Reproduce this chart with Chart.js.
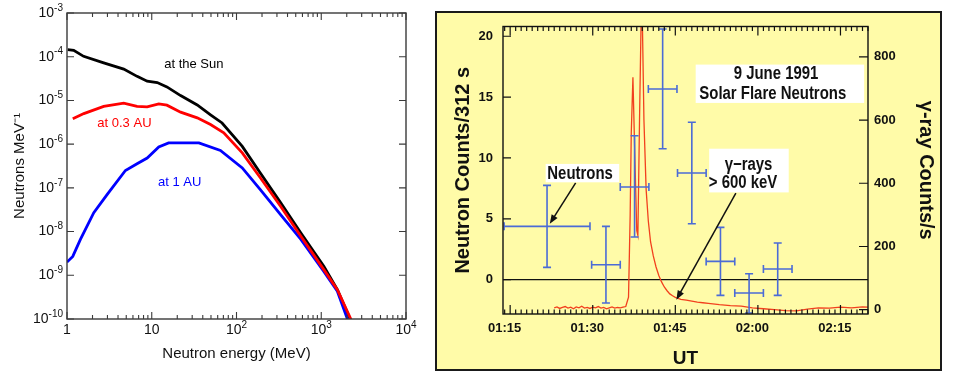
<!DOCTYPE html>
<html><head><meta charset="utf-8">
<script src="https://cdn.jsdelivr.net/npm/chart.js@4.4.1/dist/chart.umd.min.js"></script>
<style>
html,body{margin:0;padding:0;background:#fff;}
body{width:963px;height:383px;position:relative;overflow:hidden;}
#c1{position:absolute;left:0;top:0;}
#frame{position:absolute;left:435px;top:11px;width:503px;height:356px;border:2px solid #1a1a1a;background:#fffba8;}
#c2{position:absolute;left:430px;top:0;}
</style></head><body>
<canvas id="c1" width="420" height="383"></canvas>
<div id="frame"></div>
<canvas id="c2" width="533" height="383"></canvas>
<script>
// ---------- Left panel data: neutron energy spectra ----------
const energySun  = [1.02, 1.2, 1.57, 2.71, 4.67, 6.71, 8.83, 11.6, 15.1, 21.9, 34.4, 49.4, 67.6, 117, 191, 331, 575, 1072, 1549, 2188];
const fluxSun    = [1.45e-4, 1.40e-4, 1.02e-4, 7.2e-5, 5.2e-5, 3.55e-5, 2.75e-5, 2.57e-5, 2.04e-5, 1.29e-5, 7.9e-6, 4.7e-6, 3.05e-6, 8.9e-7, 2.19e-7, 4.6e-8, 9.3e-9, 1.62e-9, 4.7e-10, 1.0e-10];
const energy03AU = [1.17, 1.58, 2.71, 4.67, 6.71, 8.83, 12.1, 15.1, 21.9, 34.4, 49.4, 70.8, 117, 191, 331, 575, 1072, 1549, 2239];
const flux03AU   = [3.8e-6, 5.0e-6, 7.3e-6, 8.7e-6, 7.3e-6, 7.1e-6, 8.3e-6, 7.8e-6, 5.4e-6, 4.0e-6, 2.8e-6, 1.82e-6, 6.3e-7, 1.70e-7, 3.8e-8, 7.8e-9, 1.35e-9, 4.7e-10, 9.8e-11];
const energy1AU  = [1.0, 1.17, 1.44, 2.07, 2.97, 4.89, 6.71, 8.83, 12.1, 15.8, 24.0, 36.0, 64.6, 117, 191, 331, 575, 1072, 1549, 2042];
const flux1AU    = [2.0e-9, 2.7e-9, 6.6e-9, 2.7e-8, 7.0e-8, 2.5e-7, 3.55e-7, 4.8e-7, 8.6e-7, 1.07e-6, 1.07e-6, 1.07e-6, 7.2e-7, 2.85e-7, 9.1e-8, 2.45e-8, 6.6e-9, 1.23e-9, 4.3e-10, 9.8e-11];
const energyTickValues = [1, 10, 100, 1000, 10000];
const energyTickBase   = ['1', '10', '10', '10', '10'];
const energyTickExp    = ['', '', '2', '3', '4'];
const fluxTickValues = [1e-10, 1e-9, 1e-8, 1e-7, 1e-6, 1e-5, 1e-4, 1e-3];
const fluxTickExp    = ['-10', '-9', '-8', '-7', '-6', '-5', '-4', '-3'];
const curveLabels = [
  {text: 'at the Sun', e: 31.4, f: 6.57e-5, color: '#000000'},
  {text: 'at 0.3 AU', e: 4.76, f: 3.05e-6, color: '#ff0000'},
  {text: 'at 1 AU', e: 21.4, f: 1.34e-7, color: '#0000ff'}
];

// ---------- Right panel data: 9 June 1991 flare ----------
const gammaMinutes = [84,84.5,85,85.5,86,86.5,87,87.5,88,88.5,89,89.5,90,90.5,91,91.5,92,92.5,93,93.5,94,94.5,95,95.5,96,96.5,97,97.5,97.8,98.0,98.3,98.6,98.8,99.0,99.2,99.5,99.8,100.0,100.3,100.7,101.1,101.5,102,102.5,103,103.5,104,104.5,105,105.5,106,107,108,109,110,111,112,114,116,118,120,122,124,126,128,130,132,134,136,138,140,141];
const gammaCounts  = [6,9,4,7,10,5,8,3,9,6,11,5,7,4,8,6,10,5,7,3,6,9,5,7,6,8,10,40,300,560,735,520,380,250,235,600,930,930,600,380,280,215,170,135,108,88,72,60,50,44,39,33,30,27,24,22,20,16,13,11,6,3,0,-3,-4,2,6,5,8,6,9,8];
const neutronMinutes  = [82.7, 93.4, 98.6, 103.7, 109.0, 114.2, 119.4, 124.6];
const neutronHalfBin  = [7.8, 2.6, 2.6, 2.6, 2.6, 2.6, 2.6, 2.6];
const neutronCounts   = [4.38, 1.23, 7.62, 15.67, 8.77, 1.5, -1.1, 0.88];
const neutronLow      = [1.01, -1.92, 3.51, 10.76, 4.6, -1.29, -2.74, -1.29];
const neutronHigh     = [7.75, 4.38, 11.83, 20.6, 12.93, 4.3, 0.49, 3.01];
const utTickMinutes = [75, 90, 105, 120, 135];
const utTickLabels  = ['01:15', '01:30', '01:45', '02:00', '02:15'];
const utMajorMarkMinutes = [76, 91, 106, 121, 136];
const neutronTickValues = [0, 5, 10, 15, 20];
const gammaTickValues = [0, 200, 400, 600, 800];

const helv = "'Liberation Sans',Arial,Helvetica,sans-serif";

// ---------- Left chart ----------
const leftPlugin = {
  id: 'leftBox',
  afterDraw(chart) {
    const {ctx, chartArea: a} = chart;
    const x = chart.scales.x, y = chart.scales.y;
    ctx.save();
    ctx.strokeStyle = '#3a3a3a';
    ctx.lineWidth = 1.4;
    ctx.strokeRect(a.left, a.top, a.right - a.left, a.bottom - a.top);
    ctx.lineWidth = 1.1;
    ctx.beginPath();
    const vt = (px, len) => { ctx.moveTo(px, a.bottom); ctx.lineTo(px, a.bottom - len); ctx.moveTo(px, a.top); ctx.lineTo(px, a.top + len); };
    for (const v of energyTickValues) vt(x.getPixelForValue(v), 7);
    for (let k = 0; k < 4; k++) for (let d = 2; d <= 9; d++) vt(x.getPixelForValue(d * Math.pow(10, k)), 4);
    for (const v of fluxTickValues) {
      const py = y.getPixelForValue(v);
      ctx.moveTo(a.left, py); ctx.lineTo(a.left + 7, py);
      ctx.moveTo(a.right, py); ctx.lineTo(a.right - 7, py);
    }
    ctx.stroke();
    // tick labels with raised exponents
    ctx.fillStyle = '#111';
    ctx.textBaseline = 'middle';
    ctx.textAlign = 'left';
    const bigF = '14px ' + helv, supF = '10px ' + helv;
    const label = (base, exp, cx, cy, align) => {
      ctx.font = bigF; const wb = ctx.measureText(base).width;
      ctx.font = supF; const we = exp ? ctx.measureText(exp).width : 0;
      const total = wb + we;
      const x0 = align === 'right' ? cx - total : cx - total / 2;
      ctx.font = bigF; ctx.fillText(base, x0, cy);
      if (exp) { ctx.font = supF; ctx.fillText(exp, x0 + wb, cy - 5); }
    };
    energyTickValues.forEach((v, i) => label(energyTickBase[i], energyTickExp[i], x.getPixelForValue(v), a.bottom + 11, 'center'));
    fluxTickValues.forEach((v, i) => label('10', fluxTickExp[i], a.left - 4, y.getPixelForValue(v), 'right'));
    // curve labels
    ctx.font = '13px ' + helv;
    ctx.textAlign = 'center';
    for (const l of curveLabels) {
      ctx.fillStyle = l.color;
      ctx.fillText(l.text, x.getPixelForValue(l.e), y.getPixelForValue(l.f));
    }
    ctx.restore();
  }
};

const toXY = (xs, ys) => xs.map((v, i) => ({x: v, y: ys[i]}));

new Chart(document.getElementById('c1'), {
  type: 'line',
  data: {
    datasets: [
      {data: toXY(energy03AU, flux03AU), borderColor: '#ff0000', borderWidth: 2.8},
      {data: toXY(energy1AU, flux1AU), borderColor: '#0000ff', borderWidth: 2.8},
      {data: toXY(energySun, fluxSun), borderColor: '#000000', borderWidth: 2.8}
    ]
  },
  options: {
    responsive: false, animation: false,
    layout: {padding: {top: 13, right: 14, left: 0, bottom: 0}},
    elements: {point: {radius: 0}, line: {tension: 0}},
    plugins: {legend: {display: false}, tooltip: {enabled: false}},
    scales: {
      x: {
        type: 'logarithmic', min: 1, max: 10000,
        afterBuildTicks: s => { s.ticks = energyTickValues.map(v => ({value: v})); },
        afterFit: s => { s.height = 64; },
        ticks: {display: false},
        grid: {display: false, drawTicks: false},
        border: {display: false},
        title: {display: true, text: 'Neutron energy (MeV)', color: '#111', font: {family: helv, size: 15}, padding: {top: 0, bottom: 20}}
      },
      y: {
        type: 'logarithmic', min: 1e-10, max: 1e-3,
        afterBuildTicks: s => { s.ticks = fluxTickValues.map(v => ({value: v})); },
        afterFit: s => { s.width = 67; },
        ticks: {display: false},
        grid: {display: false, drawTicks: false},
        border: {display: false},
        title: {display: true, text: 'Neutrons MeV⁻¹', color: '#111', font: {family: helv, size: 15}, padding: {top: 11, bottom: 0}}
      }
    }
  },
  plugins: [leftPlugin]
});

// ---------- Right chart ----------
const annotations = {
  boxes: [
    {x0: 109.7, x1: 140.3, y0: 14.52, y1: 17.67},
    {x0: 82.45, x1: 95.8, y0: 8.0, y1: 9.51},
    {x0: 112.15, x1: 126.6, y0: 7.17, y1: 10.76}
  ],
  texts: [
    {text: '9 June 1991', x: 124.3, y: 16.9},
    {text: 'Solar Flare Neutrons', x: 123.7, y: 15.25},
    {text: 'Neutrons', x: 88.7, y: 8.71},
    {text: 'γ−rays', x: 119.3, y: 9.45},
    {text: '> 600 keV', x: 118.3, y: 7.95}
  ],
  arrows: [
    {x0: 87.9, y0: 7.95, x1: 83.2, y1: 4.6},
    {x0: 117.0, y0: 7.12, x1: 106.2, y1: -1.64}
  ]
};

const rightPlugin = {
  id: 'rightBox',
  afterDatasetsDraw(chart) {
    const {ctx, chartArea: a} = chart;
    const x = chart.scales.x, y = chart.scales.y, y2 = chart.scales.y2;
    ctx.save();
    // neutron error bars
    ctx.strokeStyle = '#4b6bd6';
    ctx.lineWidth = 1.6;
    ctx.beginPath();
    for (let i = 0; i < neutronMinutes.length; i++) {
      const cx = x.getPixelForValue(neutronMinutes[i]);
      const cy = y.getPixelForValue(neutronCounts[i]);
      const xl = x.getPixelForValue(neutronMinutes[i] - neutronHalfBin[i]);
      const xr = x.getPixelForValue(neutronMinutes[i] + neutronHalfBin[i]);
      const yl = y.getPixelForValue(neutronLow[i]);
      const yh = y.getPixelForValue(neutronHigh[i]);
      ctx.moveTo(xl, cy); ctx.lineTo(xr, cy);
      ctx.moveTo(xl, cy - 4); ctx.lineTo(xl, cy + 4);
      ctx.moveTo(xr, cy - 4); ctx.lineTo(xr, cy + 4);
      ctx.moveTo(cx, yl); ctx.lineTo(cx, yh);
      ctx.moveTo(cx - 4, yl); ctx.lineTo(cx + 4, yl);
      ctx.moveTo(cx - 4, yh); ctx.lineTo(cx + 4, yh);
    }
    ctx.stroke();
    // frame and ticks
    ctx.strokeStyle = '#111';
    ctx.lineWidth = 1.4;
    ctx.strokeRect(a.left, a.top, a.right - a.left, a.bottom - a.top);
    ctx.lineWidth = 1.2;
    ctx.beginPath();
    for (let m = Math.ceil(x.min); m <= x.max; m++) {
      const px = x.getPixelForValue(m);
      const len = utMajorMarkMinutes.includes(m) ? 9 : 4.5;
      ctx.moveTo(px, a.bottom); ctx.lineTo(px, a.bottom - len);
      ctx.moveTo(px, a.top); ctx.lineTo(px, a.top + len);
    }
    for (const v of neutronTickValues) {
      const py = y.getPixelForValue(v);
      ctx.moveTo(a.left, py); ctx.lineTo(a.left + 8, py);
    }
    for (const v of gammaTickValues) {
      const py = y2.getPixelForValue(v);
      ctx.moveTo(a.right, py); ctx.lineTo(a.right - 9, py);
    }
    ctx.stroke();
    // arrows
    ctx.strokeStyle = '#111'; ctx.fillStyle = '#111'; ctx.lineWidth = 1.5;
    for (const ar of annotations.arrows) {
      const x0 = x.getPixelForValue(ar.x0), y0 = y.getPixelForValue(ar.y0);
      const x1 = x.getPixelForValue(ar.x1), y1 = y.getPixelForValue(ar.y1);
      const ang = Math.atan2(y1 - y0, x1 - x0);
      ctx.beginPath(); ctx.moveTo(x0, y0);
      ctx.lineTo(x1 - 6 * Math.cos(ang), y1 - 6 * Math.sin(ang)); ctx.stroke();
      ctx.beginPath();
      ctx.moveTo(x1, y1);
      ctx.lineTo(x1 - 9 * Math.cos(ang) + 3.5 * Math.sin(ang), y1 - 9 * Math.sin(ang) - 3.5 * Math.cos(ang));
      ctx.lineTo(x1 - 9 * Math.cos(ang) - 3.5 * Math.sin(ang), y1 - 9 * Math.sin(ang) + 3.5 * Math.cos(ang));
      ctx.closePath(); ctx.fill();
    }
    // label boxes
    ctx.fillStyle = '#ffffff';
    for (const b of annotations.boxes) {
      const l = x.getPixelForValue(b.x0), r = x.getPixelForValue(b.x1);
      const t = y.getPixelForValue(b.y1), bt = y.getPixelForValue(b.y0);
      ctx.fillRect(l, t, r - l, bt - t);
    }
    ctx.fillStyle = '#111';
    ctx.textAlign = 'center'; ctx.textBaseline = 'middle';
    ctx.font = 'bold 18px ' + helv;
    for (const tx of annotations.texts) {
      ctx.save();
      ctx.translate(x.getPixelForValue(tx.x), y.getPixelForValue(tx.y));
      ctx.scale(0.83, 1);
      ctx.fillText(tx.text, 0, 0);
      ctx.restore();
    }
    ctx.restore();
  }
};

const tickFont = {family: helv, size: 13, weight: 'bold'};
const titleFont = {family: helv, size: 20, weight: 'bold'};

new Chart(document.getElementById('c2'), {
  type: 'line',
  data: {
    datasets: [
      {data: toXY(gammaMinutes, gammaCounts), yAxisID: 'y2', borderColor: '#f2401e', borderWidth: 1.3, pointRadius: 0, tension: 0},
      {data: toXY(neutronMinutes, neutronCounts), yAxisID: 'y', showLine: false, pointRadius: 0}
    ]
  },
  options: {
    responsive: false, animation: false,
    layout: {padding: {top: 26.5, right: 0, left: 0, bottom: 0}},
    plugins: {legend: {display: false}, tooltip: {enabled: false}},
    scales: {
      x: {
        type: 'linear', min: 74.7, max: 141,
        afterBuildTicks: s => { s.ticks = utTickMinutes.map(v => ({value: v})); },
        afterFit: s => { s.height = 69; },
        ticks: {callback: (v, i) => utTickLabels[i], color: '#111', font: tickFont, padding: 7, autoSkip: false, maxRotation: 0},
        grid: {display: false, drawTicks: false},
        border: {display: false},
        title: {display: true, text: 'UT', color: '#111', font: {family: helv, size: 19, weight: 'bold'}, padding: {top: 0, bottom: 13}}
      },
      y: {
        position: 'left', min: -2.82, max: 20.8,
        afterBuildTicks: s => { s.ticks = neutronTickValues.map(v => ({value: v})); },
        afterFit: s => { s.width = 73; },
        ticks: {color: '#111', font: tickFont, padding: 10, autoSkip: false},
        grid: {drawTicks: false, color: c => (c.tick && c.tick.value === 0) ? '#111' : 'rgba(0,0,0,0)', lineWidth: 1.3},
        border: {display: false},
        title: {display: true, text: 'Neutron Counts/312 s', color: '#111', font: titleFont, padding: {top: 21, bottom: 0}}
      },
      y2: {
        position: 'right', min: -13.6, max: 896,
        afterBuildTicks: s => { s.ticks = gammaTickValues.map(v => ({value: v})); },
        afterFit: s => { s.width = 95; },
        ticks: {color: '#111', font: tickFont, padding: 6, autoSkip: false},
        grid: {display: false, drawTicks: false},
        border: {display: false},
        title: {display: true, text: 'γ-ray Counts/s', color: '#111', font: titleFont, padding: {top: 25, bottom: 0}}
      }
    }
  },
  plugins: [rightPlugin]
});
</script>
</body></html>
